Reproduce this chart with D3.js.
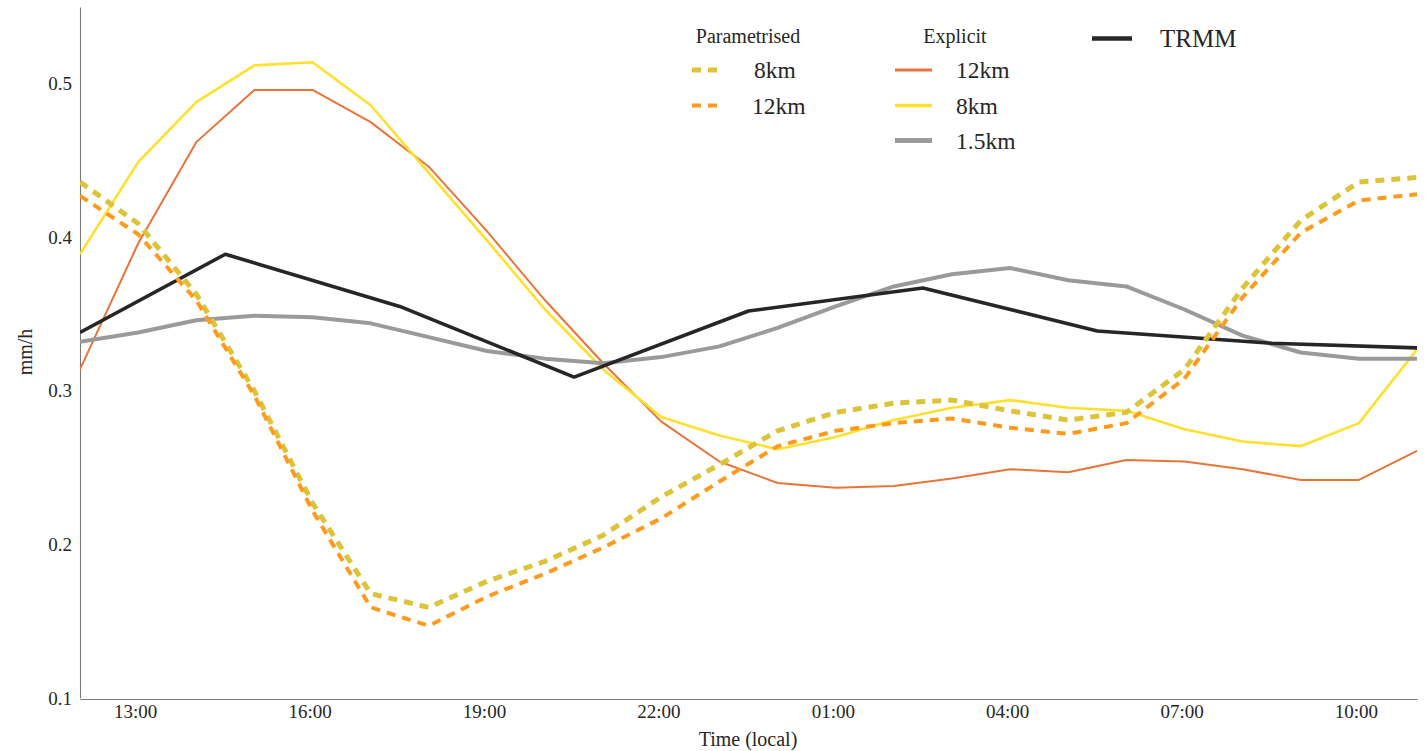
<!DOCTYPE html>
<html>
<head>
<meta charset="utf-8">
<script src="https://cdn.jsdelivr.net/npm/d3@7"></script>
<style>
  html, body { margin: 0; padding: 0; background: #fff; }
  svg { display: block; }
  text { font-family: "Liberation Serif", "Times New Roman", serif; fill: #262626; }
</style>
</head>
<body>
<svg id="chart" width="1425" height="751"></svg>
<script>
// Local time of each hourly model output (hours since midnight of day 1)
const modelHours = [12.05, 13.05, 14.05, 15.05, 16.05, 17.05, 18.05, 19.05, 20.05, 21.05, 22.05, 23.05,
                    24.05, 25.05, 26.05, 27.05, 28.05, 29.05, 30.05, 31.05, 32.05, 33.05, 34.05, 35.05];
// Local time of the 3-hourly TRMM composite (ends wrap round the diurnal cycle)
const trmmHours = [12.05, 14.55, 17.55, 20.55, 23.55, 26.55, 29.55, 32.55, 35.05];

// Mean precipitation rate, mm/h
const param8km  = [0.436, 0.409, 0.363, 0.300, 0.227, 0.168, 0.159, 0.176, 0.189, 0.206, 0.231, 0.252,
                   0.274, 0.286, 0.292, 0.294, 0.287, 0.281, 0.286, 0.314, 0.367, 0.411, 0.436, 0.439];
const param12km = [0.427, 0.402, 0.359, 0.297, 0.222, 0.159, 0.147, 0.166, 0.181, 0.198, 0.217, 0.241,
                   0.264, 0.274, 0.279, 0.282, 0.276, 0.272, 0.279, 0.308, 0.361, 0.403, 0.424, 0.428];
const expl12km  = [0.314, 0.396, 0.462, 0.496, 0.496, 0.475, 0.446, 0.404, 0.359, 0.318, 0.280, 0.254,
                   0.240, 0.237, 0.238, 0.243, 0.249, 0.247, 0.255, 0.254, 0.249, 0.242, 0.242, 0.261];
const expl8km   = [0.389, 0.449, 0.488, 0.512, 0.514, 0.486, 0.442, 0.398, 0.353, 0.314, 0.283, 0.271,
                   0.262, 0.270, 0.281, 0.289, 0.294, 0.289, 0.287, 0.275, 0.267, 0.264, 0.279, 0.327];
const expl1p5km = [0.332, 0.338, 0.346, 0.349, 0.348, 0.344, 0.335, 0.326, 0.321, 0.318, 0.322, 0.329,
                   0.341, 0.355, 0.368, 0.376, 0.380, 0.372, 0.368, 0.353, 0.336, 0.325, 0.321, 0.321];
const trmm      = [0.338, 0.389, 0.355, 0.309, 0.352, 0.367, 0.339, 0.331, 0.328];

const xTickValues = [13, 16, 19, 22, 25, 28, 31, 34];
const xTickLabels = ["13:00", "16:00", "19:00", "22:00", "01:00", "04:00", "07:00", "10:00"];
const yTickValues = [0.1, 0.2, 0.3, 0.4, 0.5];
const yTickLabels = ["0.1", "0.2", "0.3", "0.4", "0.5"];

const series = [
  { name: "8km",   group: "param", hours: modelHours, values: param8km,  color: "#dcc43a", width: 5,   dash: "9,7" },
  { name: "12km",  group: "param", hours: modelHours, values: param12km, color: "#ff9a1c", width: 4,   dash: "9,7" },
  { name: "12km",  group: "expl",  hours: modelHours, values: expl12km,  color: "#e8743a", width: 2,   dash: null },
  { name: "8km",   group: "expl",  hours: modelHours, values: expl8km,   color: "#ffe02e", width: 2.6, dash: null },
  { name: "1.5km", group: "expl",  hours: modelHours, values: expl1p5km, color: "#9a9a9a", width: 4,   dash: null },
  { name: "TRMM",  group: "obs",   hours: trmmHours,  values: trmm,      color: "#262626", width: 3.6, dash: null }
];

const FONT = "Liberation Serif, Times New Roman, serif";
const svg = d3.select("#chart");
const plotLeft = 80, plotRight = 1417, plotTop = 7, plotBottom = 698;

const x = d3.scaleLinear().domain([12.05, 35.05]).range([plotLeft, plotRight]);
const y = d3.scaleLinear().domain([0.1, 0.55]).range([plotBottom, plotTop]);

// Axes: plain spines, no tick marks
const xAxis = d3.axisBottom(x).tickValues(xTickValues)
  .tickFormat((d, i) => xTickLabels[i]).tickSize(0).tickPadding(6);
const yAxis = d3.axisLeft(y).tickValues(yTickValues)
  .tickFormat((d, i) => yTickLabels[i]).tickSize(0).tickPadding(8);

const gx = svg.append("g").attr("transform", `translate(0,${plotBottom + 1})`).call(xAxis);
const gy = svg.append("g").attr("transform", `translate(${plotLeft},0)`).call(yAxis);
[gx, gy].forEach(g => {
  g.attr("font-family", FONT);
  g.select(".domain").attr("stroke", "#7a7a7a").attr("stroke-width", 1.1);
  g.selectAll("text").attr("font-size", 19).attr("font-family", FONT).attr("fill", "#262626");
});
gx.selectAll("text").attr("dy", "0.71em");

svg.append("text").attr("x", 748).attr("y", 746).attr("text-anchor", "middle")
  .attr("font-family", FONT).attr("font-size", 20).text("Time (local)");
svg.append("text").attr("transform", "translate(32,352) rotate(-90)")
  .attr("text-anchor", "middle").attr("font-family", FONT).attr("font-size", 20).text("mm/h");

// Lines
const line = d3.line();
const plot = svg.append("g");
plot.append("clipPath").attr("id", "clip").append("rect")
  .attr("x", plotLeft).attr("y", 0).attr("width", plotRight - plotLeft + 2).attr("height", plotBottom + 2);

const drawOrder = [2, 3, 4, 5, 0, 1];
drawOrder.forEach(i => {
  const s = series[i];
  plot.append("path")
    .attr("clip-path", "url(#clip)")
    .attr("d", line(s.hours.map((h, j) => [x(h), y(s.values[j])])))
    .attr("fill", "none")
    .attr("stroke", s.color)
    .attr("stroke-width", s.width)
    .attr("stroke-linejoin", "round")
    .attr("stroke-dasharray", s.dash);
});

// Legend
const legend = svg.append("g").attr("font-family", FONT);
function legendTitle(text, cx) {
  legend.append("text").attr("x", cx).attr("y", 36).attr("dy", "0.35em")
    .attr("text-anchor", "middle").attr("font-family", FONT).attr("font-size", 20).text(text);
}
function legendItem(s, x0, x1, tx, yy) {
  legend.append("line").attr("x1", x0).attr("x2", x1).attr("y1", yy).attr("y2", yy)
    .attr("stroke", s.color).attr("stroke-width", s.width + (s.dash ? 0 : 0.8))
    .attr("stroke-dasharray", s.dash);
  legend.append("text").attr("x", tx).attr("y", yy).attr("dy", "0.35em")
    .attr("font-family", FONT)
    .attr("font-size", s.group === "obs" ? 25 : 23.5).text(s.name);
}
legendTitle("Parametrised", 748);
legendTitle("Explicit", 955);
legendItem(series[0], 692, 720, 754, 70);
legendItem(series[1], 692, 720, 752, 105.5);
legendItem(series[2], 895, 932, 956, 70);
legendItem(series[3], 895, 932, 956, 105.5);
legendItem(series[4], 895, 932, 956, 140.5);
legendItem(series[5], 1092, 1132, 1160, 38.5);
</script>
</body>
</html>
